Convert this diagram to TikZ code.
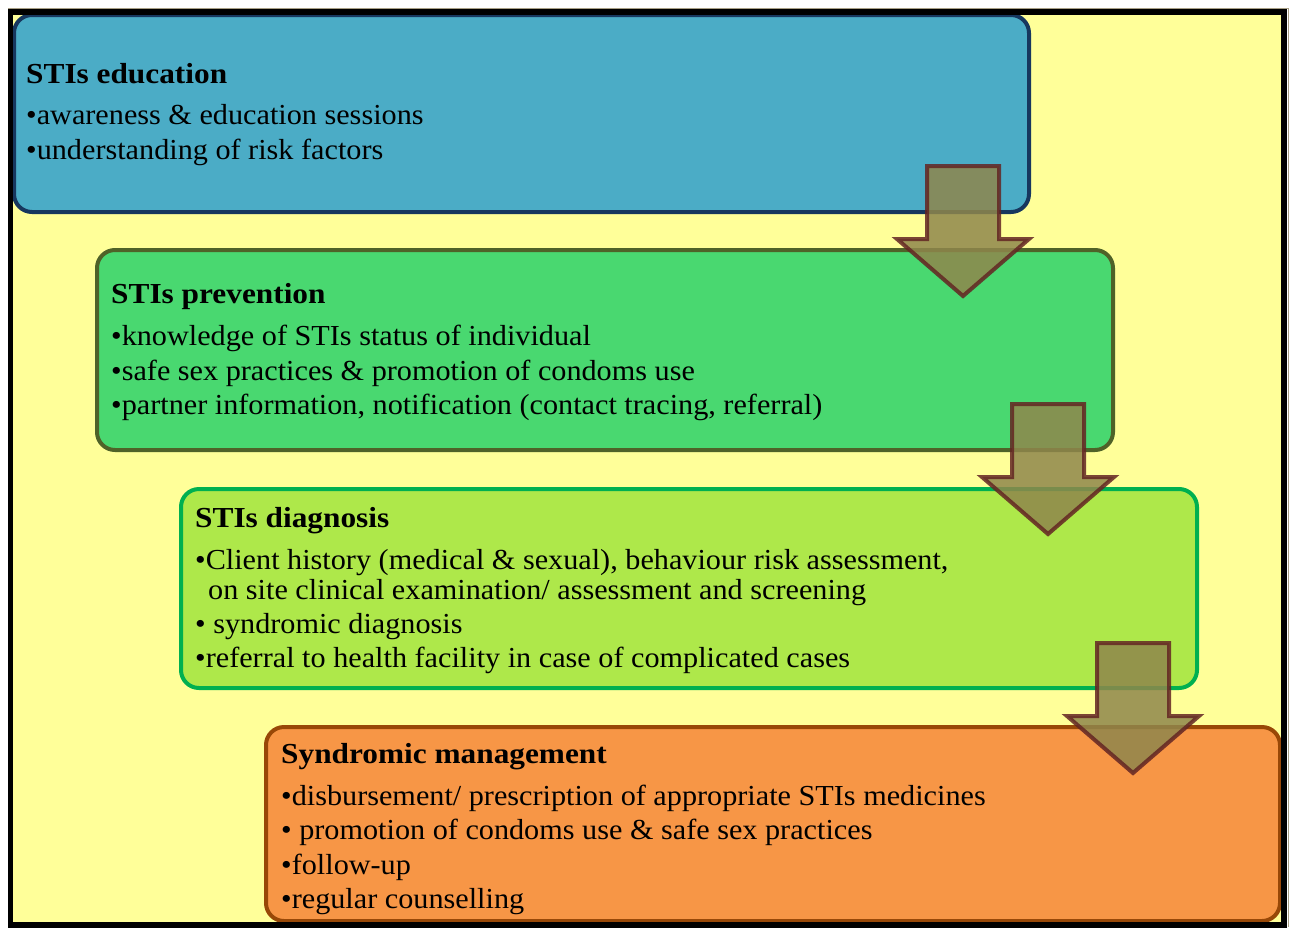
\documentclass[tikz,border=0pt]{standalone}
\usepackage{fontspec}
\setmainfont[FakeStretch=1.042,BoldFeatures={FakeStretch=1.08}]{Liberation Serif}
\definecolor{bgyellow}{HTML}{FFFF99}
\definecolor{bluefill}{HTML}{4BACC6}
\definecolor{blueedge}{HTML}{17375E}
\definecolor{greenfill}{HTML}{49D870}
\definecolor{greenedge}{HTML}{4F6228}
\definecolor{limefill}{HTML}{AEE84A}
\definecolor{limeedge}{HTML}{00B050}
\definecolor{orangefill}{HTML}{F79646}
\definecolor{orangeedge}{HTML}{984807}
\definecolor{arrowfill}{HTML}{8F864C}
\definecolor{arrowedge}{HTML}{632523}
\definecolor{shadowtan}{HTML}{A89F85}
\newcommand{\blockarrow}[2]{%
  \draw[bigarrow] (#1-36,#2) -- (#1+36,#2) -- (#1+36,#2+73) -- (#1+66,#2+73)
    -- (#1,#2+130) -- (#1-66,#2+73) -- (#1-36,#2+73) -- cycle;}
\begin{document}
\begin{tikzpicture}[x=1pt,y=-1pt,
  stagebox/.style={rounded corners=18pt,line width=4pt},
  bigarrow/.style={fill=arrowfill,fill opacity=0.85,draw=arrowedge,draw opacity=0.85,line width=4pt,line join=miter},
  txt/.style={anchor=base west,inner sep=0pt,font=\fontsize{29}{34}\selectfont},
  ttl/.style={anchor=base west,inner sep=0pt,font=\fontsize{29}{34}\selectfont\bfseries}]
\useasboundingbox (0,0) rectangle (1290,927);
\clip (0,0) rectangle (1290,927);
\fill[white] (0,0) rectangle (1290,927);
\fill[bgyellow] (10,12) rectangle (1284,927);
% stage boxes
\draw[stagebox,fill=bluefill,draw=blueedge] (14,15) rectangle (1029,212);
\draw[stagebox,fill=greenfill,draw=greenedge] (97,250) rectangle (1113,450);
\draw[stagebox,fill=limefill,draw=limeedge] (181,489) rectangle (1197,688);
\draw[stagebox,fill=orangefill,draw=orangeedge] (266,727) rectangle (1280,921);
% texts
\node[ttl] (t1) at (26,83) {STIs education};
\node[txt] (t1a) at (26,124) {•awareness \& education sessions};
\node[txt] (t1b) at (26,159) {•understanding of risk factors};
\node[ttl] (t2) at (111,303) {STIs prevention};
\node[txt] (t2a) at (111,345) {•knowledge of STIs status of individual};
\node[txt] (t2b) at (111,380) {•safe sex practices \& promotion of condoms use};
\node[txt] (t2c) at (111,414) {•partner information, notification (contact tracing, referral)};
\node[ttl] (t3) at (195,527) {STIs diagnosis};
\node[txt] (t3a) at (195,569) {•Client history (medical \& sexual), behaviour risk assessment,};
\node[txt] (t3b) at (208,599) {on site clinical examination/ assessment and screening};
\node[txt] (t3c) at (195,633) {• syndromic diagnosis};
\node[txt] (t3d) at (195,667) {•referral to health facility in case of complicated cases};
\node[ttl] (t4) at (281,763) {Syndromic management};
\node[txt] (t4a) at (281,805) {•disbursement/ prescription of appropriate STIs medicines};
\node[txt] (t4b) at (281,839) {• promotion of condoms use \& safe sex practices};
\node[txt] (t4c) at (281,874) {•follow-up};
\node[txt] (t4d) at (281,908) {•regular counselling};
% arrows
\blockarrow{963}{166}
\blockarrow{1048}{404}
\blockarrow{1133}{643}
% frame
\draw[shadowtan,line width=1pt] (8,8.5) -- (1288.5,8.5) -- (1288.5,927);
\draw[black,line width=5.5pt] (10.5,12) rectangle (1284,925);
\end{tikzpicture}
\end{document}
